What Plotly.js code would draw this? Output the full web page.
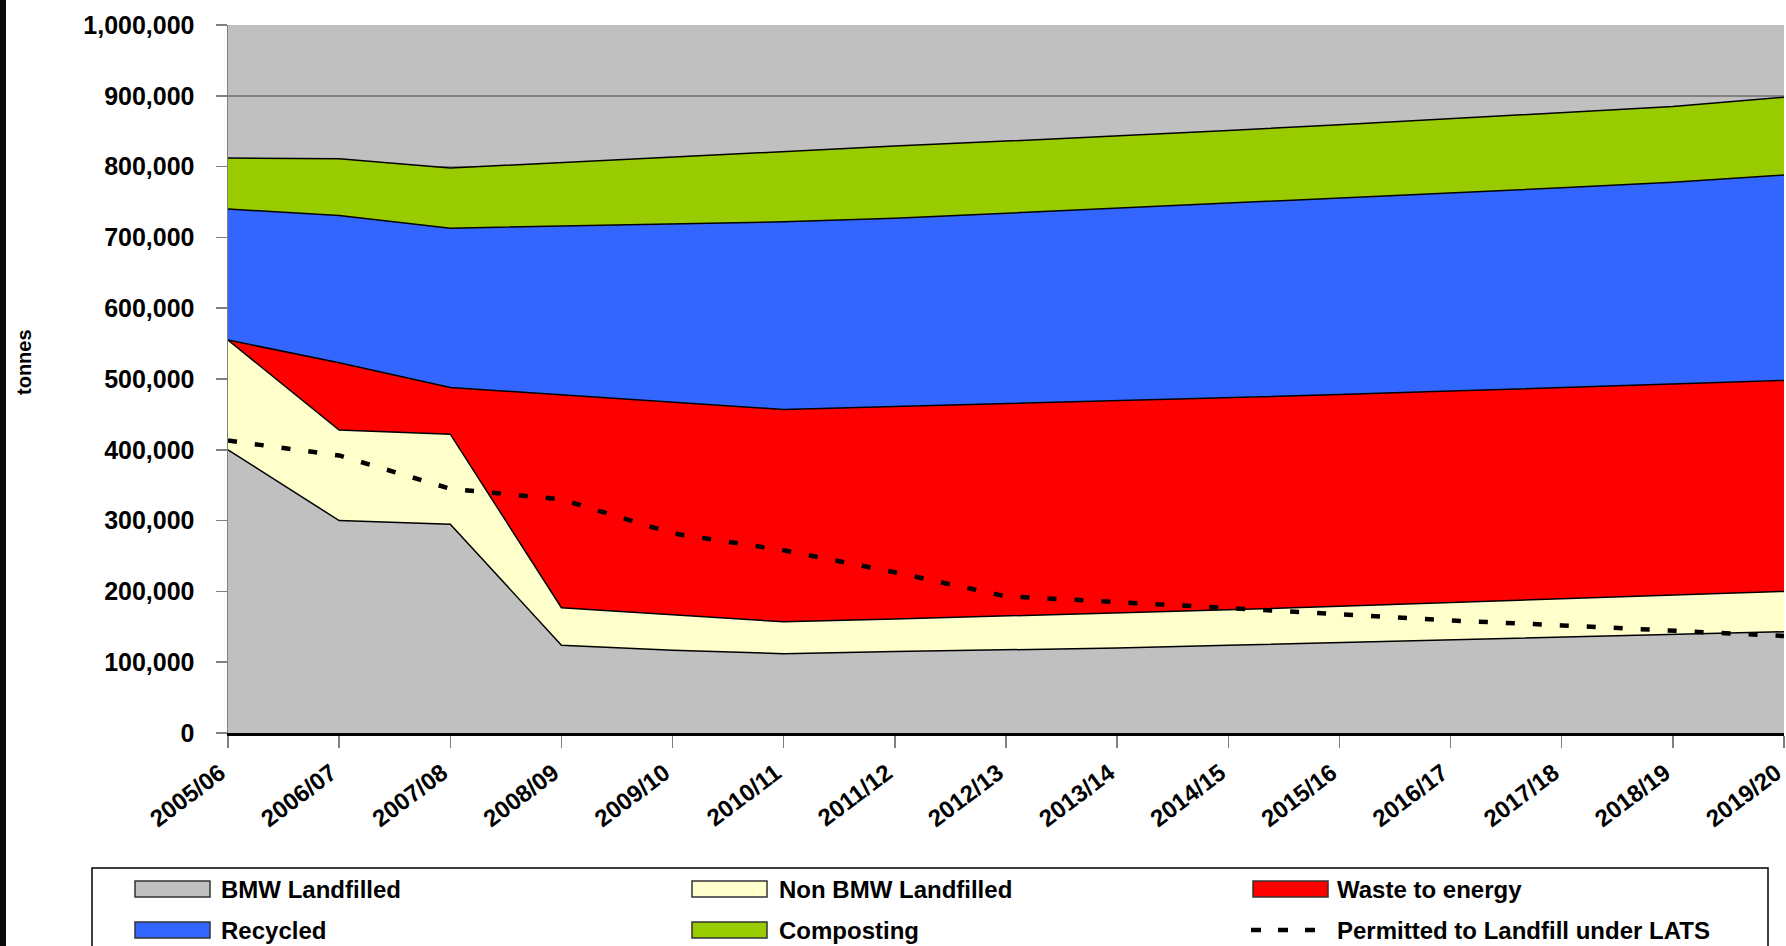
<!DOCTYPE html>
<html>
<head>
<meta charset="utf-8">
<script src="https://cdn.plot.ly/plotly-3.0.1.min.js"></script>
<style>
  html, body { margin: 0; padding: 0; background: #ffffff; }
  #chart { width: 1786px; height: 946px; }
  #edge { position: absolute; left: 0; top: 0; width: 6px; height: 946px; background: #0a0a0a; z-index: 10; }
</style>
</head>
<body>
<div id="edge"></div>
<div id="chart"></div>
<script>
const categories = ['2005/06','2006/07','2007/08','2008/09','2009/10','2010/11','2011/12','2012/13','2013/14','2014/15','2015/16','2016/17','2017/18','2018/19','2019/20'];
const bmwLandfilled    = [400000,300000,295000,124000,117000,112000,115000,117000,120000,124000,128000,132000,136000,139000,143000];
const nonBmwLandfilled = [155000,128000,127000, 53000, 50000, 45000, 46000, 48000, 50000, 50000, 51000, 52000, 53000, 55000, 57000];
const wasteToEnergy    = [     0, 95000, 66000,301000,300000,300000,300000,300000,299000,299000,299000,299000,299000,299000,298000];
const recycled         = [185000,208000,225000,238000,253000,265000,266000,269000,272000,275000,277000,280000,282000,285000,290000];
const composting       = [ 72000, 80000, 85000, 90000, 93000,100000,102000,102000,102000,103000,104000,105000,106000,107000,110000];
const permittedLATS    = [413000,392000,345000,330000,282000,258000,227000,193000,185000,176000,167000,159000,152000,145000,137000];

const seriesNames  = ['BMW Landfilled','Non BMW Landfilled','Waste to energy','Recycled','Composting'];
const seriesColors = ['#C0C0C0','#FFFFCC','#FF0000','#3366FF','#99CC00'];
const seriesValues = [bmwLandfilled, nonBmwLandfilled, wasteToEnergy, recycled, composting];
const lineName = 'Permitted to Landfill under LATS';
const yTitle = 'tonnes';

const FONT = 'Liberation Sans, Arial, sans-serif';

const traces = seriesValues.map((vals, i) => ({
  type: 'scatter', mode: 'lines', name: seriesNames[i],
  x: categories, y: vals, stackgroup: 'one',
  fillcolor: seriesColors[i],
  line: {color: '#000000', width: 1.5},
  showlegend: false
}));
traces.push({
  type: 'scatter', mode: 'lines', name: lineName,
  x: categories, y: permittedLATS,
  line: {color: '#000000', width: 4.5, dash: '9px,18px'},
  showlegend: false
});

// plot-area geometry (px) used to place the hand-drawn legend
const L = 228, R = 1784, T = 25, B = 733;
const px = v => (v - L) / (R - L);
const py = v => (B - v) / (B - T);

const shapes = [];
const annotations = [];
// legend box
shapes.push({type:'rect', xref:'paper', yref:'paper', x0:px(92), x1:px(1768), y0:py(868), y1:py(960),
  line:{color:'#000000', width:1.5}, fillcolor:'#ffffff', layer:'above'});
const colSwatch = [135, 692, 1253];
const colText = [219, 777, 1335];
const rowY = [889, 930];
const legendItems = seriesNames.map((n, i) => ({name: n, color: seriesColors[i]}));
legendItems.push({name: lineName, dash: true});
legendItems.forEach((it, k) => {
  const c = k % 3, r = Math.floor(k / 3);
  const sx = colSwatch[c], cy = rowY[r];
  if (it.dash) {
    shapes.push({type:'line', xref:'paper', yref:'paper', x0:px(sx-2), x1:px(sx+72), y0:py(cy), y1:py(cy),
      line:{color:'#000000', width:4.5, dash:'10px,17px'}, layer:'above'});
  } else {
    shapes.push({type:'rect', xref:'paper', yref:'paper', x0:px(sx), x1:px(sx+75), y0:py(cy-8), y1:py(cy+8),
      fillcolor: it.color, line:{color:'#333333', width:1.5}, layer:'above'});
  }
  annotations.push({xref:'paper', yref:'paper', x:px(colText[c]), y:py(cy), xanchor:'left', yanchor:'middle',
    text: it.name, showarrow:false, font:{family:FONT, size:24, color:'#000000', weight:'bold'}});
});
// y-axis title
annotations.push({xref:'paper', yref:'paper', x:px(24), y:py(362), xanchor:'center', yanchor:'middle',
  text: yTitle, textangle: -90, showarrow:false, font:{family:FONT, size:20, color:'#000000', weight:'bold'}});

const layout = {
  width: 1786, height: 946,
  margin: {l: L, r: 1786 - R, t: T, b: 946 - B, pad: 0},
  paper_bgcolor: '#ffffff', plot_bgcolor: '#C0C0C0',
  showlegend: false,
  font: {family: FONT, color: '#000000'},
  xaxis: {
    type: 'category', range: [0, categories.length - 1],
    showgrid: false, zeroline: false,
    showline: true, linecolor: '#000000', linewidth: 2.5,
    ticks: 'outside', ticklen: 12, tickcolor: '#808080', tickwidth: 1.5,
    tickangle: -37, ticklabelshift: -8, ticklabelstandoff: 2,
    tickfont: {size: 24, family: FONT, weight: 'bold'},
    fixedrange: true
  },
  yaxis: {
    range: [0, 1000000], dtick: 100000, tickformat: ',d',
    showgrid: true, gridcolor: '#808080', gridwidth: 1.5, zeroline: false,
    showline: true, linecolor: '#808080', linewidth: 1.5,
    ticks: 'outside', ticklen: 11, tickcolor: '#808080', tickwidth: 1.5,
    ticklabelstandoff: 16,
    tickfont: {size: 25, family: FONT, weight: 'bold'},
    automargin: false, fixedrange: true
  },
  shapes: shapes,
  annotations: annotations
};

Plotly.newPlot('chart', traces, layout, {displayModeBar: false, staticPlot: true});
</script>
</body>
</html>
